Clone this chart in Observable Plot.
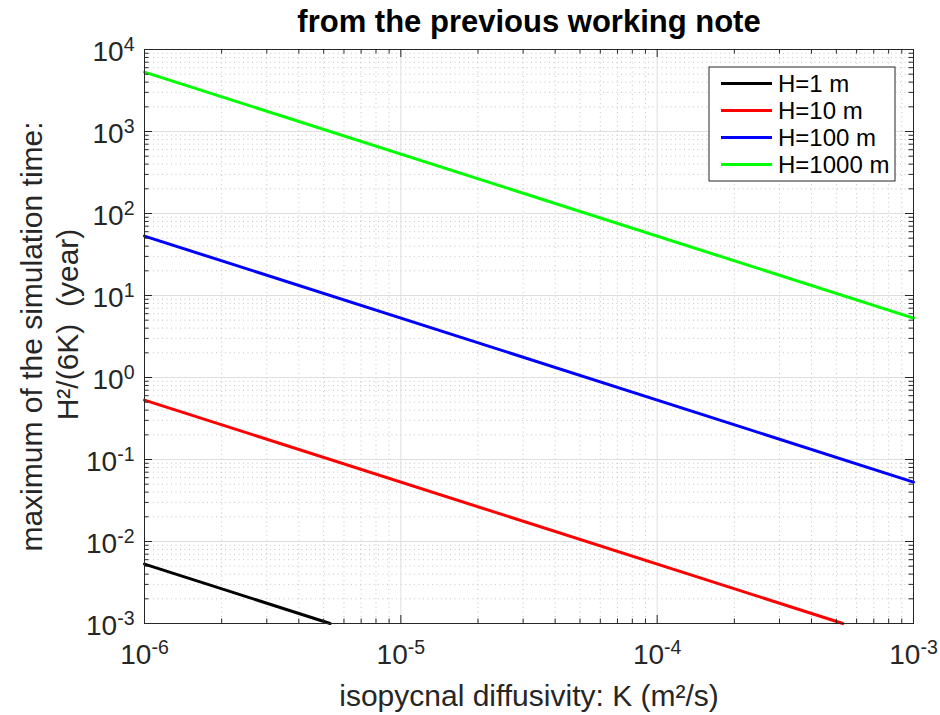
<!DOCTYPE html>
<html>
<head>
<meta charset="utf-8">
<script src="https://cdn.jsdelivr.net/npm/d3@7"></script>
<script src="https://cdn.jsdelivr.net/npm/@observablehq/plot@0.6"></script>
<style>
  html, body { margin: 0; padding: 0; background: #ffffff; }
  #chart svg { display: block; font-family: "Liberation Sans", Helvetica, Arial, sans-serif; }
</style>
</head>
<body>
<div id="chart"></div>
<script>
// ---- data ----
const seriesNames  = ["H=1 m", "H=10 m", "H=100 m", "H=1000 m"];
const seriesColors = ["#000000", "#ff0000", "#0000ff", "#00ff00"];
// isopycnal diffusivity K (m^2/s) at the visible ends of each line
const kValues = [[1e-6, 5.3e-6], [1e-6, 5.3e-4], [1e-6, 1e-3], [1e-6, 1e-3]];
// H^2/(6K) in years at those K values
const tValues = [[5.3e-3, 1e-3], [0.53, 1e-3], [53, 0.053], [5300, 5.3]];

const xTicks = [1e-6, 1e-5, 1e-4, 1e-3];
const yTicks = [1e-3, 1e-2, 1e-1, 1e0, 1e1, 1e2, 1e3, 1e4];

const titleText = "from the previous working note";
const xLabelText = "isopycnal diffusivity: K (m\u00b2/s)";
const yLabelLine1 = "maximum of the simulation time:";
const yLabelLine2 = "H\u00b2/(6K)\u00a0 (year)";

// ---- derived ----
const minorOf = ticks => ticks.slice(0, -1).flatMap(d => [2,3,4,5,6,7,8,9].map(m => m * d));
const xMinor = minorOf(xTicks);
const yMinor = minorOf(yTicks);
const rows = seriesNames.flatMap((name, i) =>
  kValues[i].map((k, j) => ({name, k, t: tValues[i][j]})));

const W = 940, H = 715;
const mL = 144, mR = 27, mT = 49, mB = 92;
const plotW = W - mL - mR, plotH = H - mT - mB;
const axisColor = "#262626";
const font = '"Liberation Sans", Helvetica, Arial, sans-serif';

const chart = Plot.plot({
  width: W, height: H,
  marginLeft: mL, marginRight: mR, marginTop: mT, marginBottom: mB,
  style: {fontFamily: font, color: axisColor, background: "#ffffff", overflow: "visible"},
  x: {type: "log", domain: [1e-6, 1e-3]},
  y: {type: "log", domain: [1e-3, 1e4]},
  marks: [
    // minor grid (dotted)
    Plot.ruleX(xMinor, {x: d => d, stroke: "#c4c4c4", strokeWidth: 1, strokeDasharray: "1,3.5"}),
    Plot.ruleY(yMinor, {y: d => d, stroke: "#c4c4c4", strokeWidth: 1, strokeDasharray: "1,3.5"}),
    // major grid (solid light)
    Plot.ruleX(xTicks.slice(1, -1), {x: d => d, stroke: "#dedede", strokeWidth: 1}),
    Plot.ruleY(yTicks.slice(1, -1), {y: d => d, stroke: "#dedede", strokeWidth: 1}),
    // data lines
    ...seriesNames.map((name, i) =>
      Plot.line(rows.filter(r => r.name === name), {x: "k", y: "t", stroke: seriesColors[i], strokeWidth: 3})),
    // inward ticks: bottom/top
    Plot.tickX(xTicks, {x: d => d, insetTop: plotH - 8, stroke: axisColor, strokeWidth: 1}),
    Plot.tickX(xTicks, {x: d => d, insetBottom: plotH - 8, stroke: axisColor, strokeWidth: 1}),
    Plot.tickX(xMinor, {x: d => d, insetTop: plotH - 4.5, stroke: axisColor, strokeWidth: 1}),
    Plot.tickX(xMinor, {x: d => d, insetBottom: plotH - 4.5, stroke: axisColor, strokeWidth: 1}),
    // inward ticks: left/right
    Plot.tickY(yTicks, {y: d => d, insetRight: plotW - 8, stroke: axisColor, strokeWidth: 1}),
    Plot.tickY(yTicks, {y: d => d, insetLeft: plotW - 8, stroke: axisColor, strokeWidth: 1}),
    Plot.tickY(yMinor, {y: d => d, insetRight: plotW - 4.5, stroke: axisColor, strokeWidth: 1}),
    Plot.tickY(yMinor, {y: d => d, insetLeft: plotW - 4.5, stroke: axisColor, strokeWidth: 1}),
    Plot.frame({stroke: axisColor, strokeWidth: 1}),
    // tick labels (exponent only; rebuilt as 10^n below)
    Plot.axisX({ticks: xTicks, tickSize: 0, tickPadding: 20.4, fontSize: 28,
      tickFormat: d => String(Math.round(Math.log10(d))), label: null}),
    Plot.axisY({ticks: yTicks, tickSize: 0, tickPadding: 10, fontSize: 28, dy: 3,
      tickFormat: d => String(Math.round(Math.log10(d))), label: null}),
    // title and axis labels
    Plot.text([titleText], {text: d => d, frameAnchor: "top", textAnchor: "middle", lineAnchor: "middle",
      dy: -27, fontSize: 31, fontWeight: "bold", fill: "#000000"}),
    Plot.text([xLabelText], {text: d => d, frameAnchor: "bottom", textAnchor: "middle", lineAnchor: "middle",
      dy: 72.5, fontSize: 30, fill: axisColor}),
    Plot.text([yLabelLine1], {text: d => d, frameAnchor: "left", textAnchor: "middle", lineAnchor: "middle",
      dx: -112, dy: 0, rotate: -90, fontSize: 30, fill: axisColor}),
    Plot.text([yLabelLine2], {text: d => d, frameAnchor: "left", textAnchor: "middle", lineAnchor: "middle",
      dx: -76, dy: -12, rotate: -90, fontSize: 30, fill: axisColor})
  ]
});

document.getElementById("chart").appendChild(chart);

// rebuild tick labels as 10 with a superscript exponent
const svg = d3.select(chart);
svg.selectAll('g[aria-label="x-axis tick label"] text, g[aria-label="y-axis tick label"] text').each(function() {
  const exp = this.textContent;
  const t = d3.select(this);
  t.text(null);
  t.append("tspan").text("10");
  t.append("tspan").attr("dy", "-10px").attr("font-size", "19.5px").text(exp);
});

// legend (drawn from the series arrays)
const lg = svg.append("g").attr("font-family", font).attr("font-size", 24).attr("text-anchor", "start");
const lx = 709, ly = 67, lw = 186, lh = 114, rowH = 27;
lg.append("rect").attr("x", lx).attr("y", ly).attr("width", lw).attr("height", lh)
  .attr("fill", "#ffffff").attr("stroke", axisColor).attr("stroke-width", 1);
seriesNames.forEach((name, i) => {
  const cy = ly + 16.5 + i * rowH;
  lg.append("line").attr("x1", lx + 12).attr("x2", lx + 63).attr("y1", cy).attr("y2", cy)
    .attr("stroke", seriesColors[i]).attr("stroke-width", 3);
  lg.append("text").attr("x", lx + 69).attr("y", cy + 8).attr("fill", "#000000")
    .attr("text-anchor", "start").text(name);
});
</script>
</body>
</html>
